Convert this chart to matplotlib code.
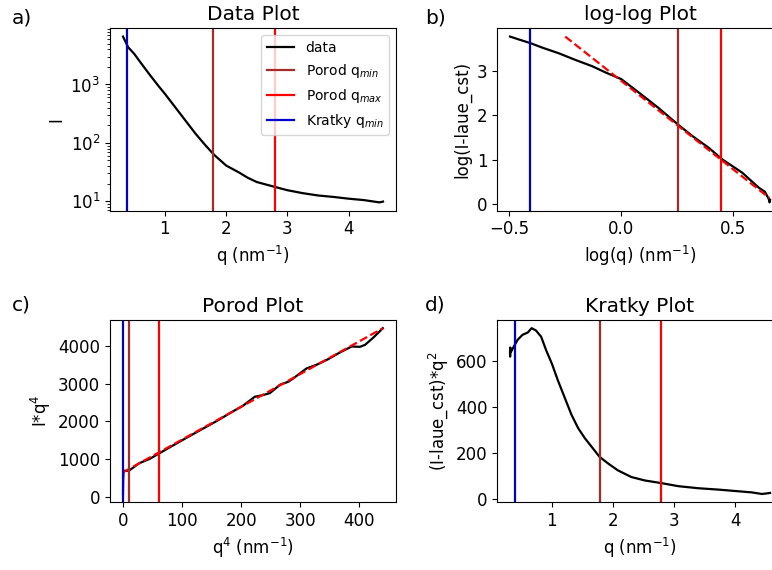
import numpy as np
import matplotlib
matplotlib.use("Agg")
import matplotlib.pyplot as plt
from matplotlib.ticker import MultipleLocator

# ============ data ============
# a) Data Plot : I(q), log scale
q_data = [0.317, 0.4, 0.5, 0.6, 0.75, 0.9, 1.0, 1.25, 1.5, 1.65, 1.8, 2.0,
          2.2, 2.35, 2.5, 2.8, 3.0, 3.25, 3.5, 3.75, 4.0, 4.25, 4.5, 4.56]
I_data = [6600, 4350, 3340, 2400, 1480, 930, 693, 316, 144, 94, 63, 41,
          31.6, 25.4, 21.4, 17.6, 15.5, 13.8, 12.6, 11.9, 11.1, 10.5, 9.6,
          9.9]

# b) log-log Plot
logq_data = [-0.496, -0.46, -0.404, -0.352, -0.277, -0.203, -0.129, -0.07,
             0.0, 0.049, 0.108, 0.168, 0.254, 0.316, 0.39, 0.45, 0.539,
             0.613, 0.64, 0.657, 0.661, 0.663]
logI_data = [3.78, 3.72, 3.63, 3.53, 3.40, 3.25, 3.11, 2.97, 2.82, 2.63,
             2.40, 2.16, 1.79, 1.54, 1.27, 1.01, 0.71, 0.37, 0.28, 0.12,
             0.04, 0.10]
loglog_fit_x = [-0.25, 0.66]
loglog_fit_y = [3.78, 0.14]

# c) Porod Plot : I*q^4 vs q^4
porod_x = [0.0105, 0.0256, 0.0625, 0.316, 1.0, 5.0, 10.3, 27, 45, 59.5, 84,
           100.8, 129, 157.5, 186, 203, 223, 237, 248.6, 265.6, 279.7, 288,
           310.5, 327.5, 347.3, 367, 387, 401, 409.6, 423.8, 439.7]
porod_y = [69, 111, 209, 468, 690, 680, 690, 883, 1000, 1131, 1352, 1502,
           1749, 1996, 2261, 2412, 2650, 2694, 2747, 2968, 3048, 3136, 3401,
           3498, 3648, 3825, 3984, 3975, 4028, 4223, 4470]
porod_fit_x = [0, 440]
porod_fit_y = [645, 4470]

# d) Kratky Plot : (I-laue_cst)*q^2
q_kratky = [0.316, 0.318, 0.32, 0.33, 0.35, 0.376, 0.44, 0.52, 0.606, 0.67,
            0.74, 0.825, 0.907, 1.0, 1.1, 1.21, 1.32, 1.43, 1.54, 1.65, 1.78,
            1.92, 2.08, 2.30, 2.52, 2.80, 3.07, 3.40, 3.73, 4.0, 4.27, 4.44,
            4.57]
kratky = [640, 620, 660, 640, 650, 663, 693, 715, 725, 744, 734, 707, 648,
          590, 516, 442, 368, 309, 265, 228, 184, 155, 125, 96, 81, 69, 56,
          47, 41, 35, 29, 22, 26.5]

# limits used by the analysis
kratky_qmin = 0.39
porod_qmin = 1.79
porod_qmax = 2.79

plt.rcParams['font.size'] = 12
plt.rcParams['axes.titlesize'] = 14.5

fig = plt.figure(figsize=(7.72, 5.70), dpi=100)
w, h = 0.3705, 0.32
ax_a = fig.add_axes([0.1425, 0.6304, w, h])
ax_b = fig.add_axes([0.6438, 0.6304, w, h])
ax_c = fig.add_axes([0.1425, 0.1188, w, h])
ax_d = fig.add_axes([0.6438, 0.1188, w, h])

c_pmin, c_pmax, c_kmin = 'brown', 'red', 'mediumblue'
lw = 1.6


def add_lines(ax, xs):
    ax.axvline(xs[0], color=c_pmin, lw=lw, label=r'Porod q$_{min}$')
    ax.axvline(xs[1], color=c_pmax, lw=lw, label=r'Porod q$_{max}$')
    ax.axvline(xs[2], color=c_kmin, lw=lw, label=r'Kratky q$_{min}$')


# ============ a) Data Plot ============
ax_a.plot(q_data, I_data, color='black', lw=lw, label='data')
add_lines(ax_a, [porod_qmin, porod_qmax, kratky_qmin])
ax_a.set_yscale('log')
ax_a.set_title('Data Plot')
ax_a.set_xlabel(r'q (nm$^{-1}$)')
ax_a.set_ylabel('I')
ax_a.legend(loc='upper right', fontsize=10)

# ============ b) log-log Plot ============
ax_b.plot(logq_data, logI_data, color='black', lw=lw)
ax_b.plot(loglog_fit_x, loglog_fit_y, color='red', ls='--', lw=lw)
add_lines(ax_b, np.log10([porod_qmin, porod_qmax, kratky_qmin]))
ax_b.xaxis.set_major_locator(MultipleLocator(0.5))
ax_b.set_title('log-log Plot')
ax_b.set_xlabel(r'log(q) (nm$^{-1}$)')
ax_b.set_ylabel('log(I-laue_cst)')

# ============ c) Porod Plot ============
ax_c.plot(porod_x, porod_y, color='black', lw=lw)
ax_c.plot(porod_fit_x, porod_fit_y, color='red', ls='--', lw=lw)
add_lines(ax_c, np.power([porod_qmin, porod_qmax, kratky_qmin], 4))
ax_c.set_title('Porod Plot')
ax_c.set_xlabel(r'q$^4$ (nm$^{-1}$)')
ax_c.set_ylabel(r'I*q$^4$')

# ============ d) Kratky Plot ============
ax_d.plot(q_kratky, kratky, color='black', lw=lw)
add_lines(ax_d, [porod_qmin, porod_qmax, kratky_qmin])
ax_d.set_title('Kratky Plot')
ax_d.set_xlabel(r'q (nm$^{-1}$)')
ax_d.set_ylabel(r'(I-laue_cst)*q$^2$')

# panel letters
fig.text(0.0155, 0.9596, 'a)', fontsize=14.5)
fig.text(0.551, 0.9596, 'b)', fontsize=14.5)
fig.text(0.0155, 0.4544, 'c)', fontsize=14.5)
fig.text(0.551, 0.4544, 'd)', fontsize=14.5)

fig.savefig('out.png', dpi=100)
